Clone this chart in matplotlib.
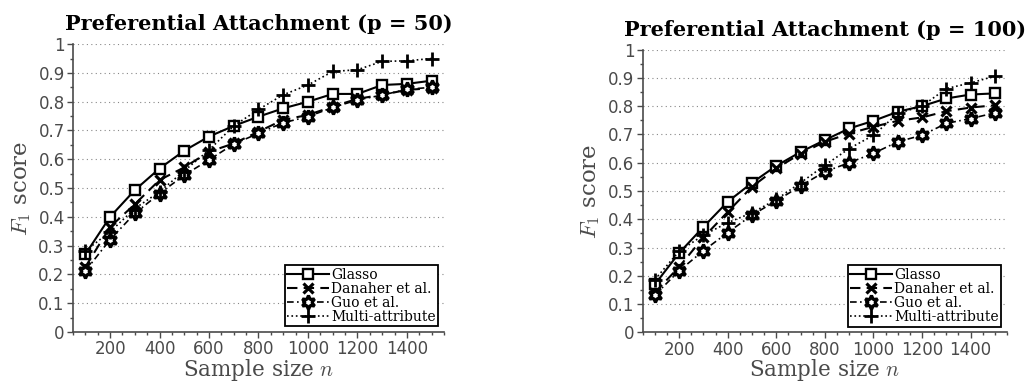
import numpy as np
import matplotlib
matplotlib.use("Agg")
import matplotlib.pyplot as plt
from matplotlib.ticker import MultipleLocator

plt.rcParams['mathtext.fontset'] = 'cm'
plt.rcParams['font.family'] = 'DejaVu Sans'

n = [100, 200, 300, 400, 500, 600, 700, 800, 900, 1000, 1100, 1200, 1300, 1400, 1500]

# p = 50
glasso_50 = [0.270, 0.400, 0.493, 0.568, 0.630, 0.679, 0.716, 0.748, 0.777, 0.800, 0.827, 0.827, 0.858, 0.862, 0.873]
danaher_50 = [0.226, 0.365, 0.444, 0.528, 0.572, 0.626, 0.655, 0.696, 0.737, 0.754, 0.783, 0.810, 0.824, 0.841, 0.847]
guo_50 = [0.212, 0.321, 0.412, 0.481, 0.545, 0.598, 0.653, 0.690, 0.727, 0.748, 0.780, 0.806, 0.823, 0.843, 0.850]
multi_50 = [0.282, 0.348, 0.429, 0.487, 0.560, 0.632, 0.716, 0.773, 0.824, 0.858, 0.905, 0.911, 0.940, 0.942, 0.950]

# p = 100
glasso_100 = [0.170, 0.281, 0.373, 0.462, 0.529, 0.589, 0.638, 0.680, 0.721, 0.748, 0.780, 0.800, 0.827, 0.841, 0.845]
danaher_100 = [0.141, 0.232, 0.336, 0.426, 0.515, 0.580, 0.632, 0.674, 0.703, 0.727, 0.748, 0.760, 0.782, 0.795, 0.803]
guo_100 = [0.132, 0.218, 0.289, 0.353, 0.415, 0.465, 0.518, 0.568, 0.600, 0.633, 0.674, 0.697, 0.739, 0.756, 0.776]
multi_100 = [0.187, 0.287, 0.344, 0.388, 0.423, 0.470, 0.529, 0.591, 0.650, 0.697, 0.774, 0.800, 0.862, 0.882, 0.906]

labels = ['Glasso', 'Danaher et al.', 'Guo et al.', 'Multi-attribute']
yticklabels = ['0', '0.1', '0.2', '0.3', '0.4', '0.5', '0.6', '0.7', '0.8', '0.9', '1']

grey = '#4a4a4a'
serif = 'DejaVu Serif'


def panel(ax, series, title):
    styles = [
        dict(ls='-', lw=1.5, marker='s', ms=7.5, mfc='white', mew=1.7),
        dict(ls=(0, (5, 3)), lw=1.5, marker='x', ms=7, mew=2.3),
        dict(ls=(0, (4, 2, 1, 2)), lw=1.2, marker=(6, 1, 0), ms=10, mfc='white', mew=2.3),
        dict(ls=':', lw=1.2, marker='+', ms=10.5, mew=2.0),
    ]
    for ys, st, lab in zip(series, styles, labels):
        ax.plot(n, ys, color='black', mec='black', label=lab, **st)

    ax.set_xlim(50, 1550)
    ax.set_ylim(0, 1)
    ax.set_xticks([200, 400, 600, 800, 1000, 1200, 1400])
    ax.xaxis.set_minor_locator(MultipleLocator(50))
    ax.set_yticks(np.arange(0, 1.01, 0.1))
    ax.set_yticklabels(yticklabels)
    ax.yaxis.set_minor_locator(MultipleLocator(0.05))
    ax.tick_params(which='both', direction='out', colors=grey, labelsize=12)
    ax.tick_params(which='major', length=4, width=1, pad=2)
    ax.tick_params(which='minor', length=2.5, width=1)
    for s in ['top', 'right']:
        ax.spines[s].set_visible(False)
    for s in ['left', 'bottom']:
        ax.spines[s].set_color(grey)
        ax.spines[s].set_linewidth(1.2)
    ax.grid(axis='y', which='major', ls=(0, (1, 3)), color='#888888', lw=0.8)
    ax.set_axisbelow(True)

    ax.set_xlabel(r'Sample size $n$', fontsize=15.5, family=serif, color=grey, labelpad=-1)
    ax.set_ylabel(r'$F_1$ score', fontsize=16.5, family=serif, color=grey, labelpad=4)
    ax.set_title(title, fontsize=15, family=serif, weight='bold', color='black', pad=10)

    leg = ax.legend(loc='lower right', prop={'family': serif, 'size': 10},
                    handlelength=3.0, handletextpad=0.15,
                    labelspacing=0.0, borderpad=0.2, borderaxespad=0.4,
                    fancybox=False, framealpha=1, edgecolor='black')
    leg.get_frame().set_linewidth(1.3)


fig = plt.figure(figsize=(10.35, 3.87), dpi=100)
ax1 = fig.add_axes([0.0705, 0.142, 0.3585, 0.744])
ax2 = fig.add_axes([0.621, 0.141, 0.352, 0.731])

panel(ax1, [glasso_50, danaher_50, guo_50, multi_50],
      'Preferential Attachment (p = 50)')
panel(ax2, [glasso_100, danaher_100, guo_100, multi_100],
      'Preferential Attachment (p = 100)')

fig.savefig('out.png', dpi=100)
